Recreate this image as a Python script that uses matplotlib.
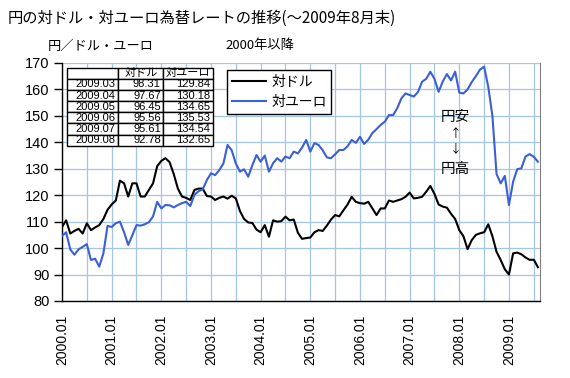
import matplotlib
matplotlib.use('Agg')
import matplotlib.pyplot as plt
import numpy as np

plt.rcParams['font.family'] = ['Noto Sans CJK JP', 'DejaVu Sans']

# ---- data (month-end rates, 2000.01 .. 2009.08) ----
usd = [108, 110.5, 105.5, 106.5, 107.3, 105.5, 109.4, 106.8, 107.8, 108.7, 111, 114.5,
       116.5, 118, 125.5, 124.5, 119.5, 124.5, 124.5, 119.5, 119.5, 122, 124.5, 131,
       133, 134, 132.5, 128, 122.5, 119.5, 119, 118.2, 122, 122.5, 122.5, 119.7,
       119.5, 118.2, 119, 119.5, 118.7, 119.8, 118.8, 114, 111, 109.7, 109.5, 107,
       106, 108.7, 104.3, 110.5, 110, 110.2, 111.9, 110.5, 110.8, 105.8, 103.5, 103.8,
       104, 106, 106.8, 106.5, 108.5, 110.8, 112.5, 112, 114.3, 116.5, 119.4, 117.5,
       117, 116.8, 117.5, 115, 112.5, 115, 115, 118, 117.5, 118, 118.5, 119.4,
       121, 118.8, 119, 119.4, 121.3, 123.5, 120.5, 116.5, 115.7, 115.3, 113, 111,
       106.8, 104.5, 99.6, 103, 105, 105.6, 106, 109, 104.5, 98.6, 95.5, 92,
       90, 98, 98.31, 97.67, 96.45, 95.56, 95.61, 92.78]
eur = [104.5, 106, 99.5, 97.5, 99.5, 100.5, 101.5, 95.5, 96, 93, 98, 108.4,
       108, 109.4, 110, 106, 101.2, 104.9, 108.7, 108.5, 109, 109.8, 112, 117.5,
       115, 116.3, 116.2, 115.4, 116.3, 117, 117.5, 115.9, 120.2, 121.5, 122.2, 125.7,
       128.3, 127.6, 129.5, 132, 139, 137, 132, 128.9, 129.8, 127, 131.4, 135.2,
       132.7, 135, 128.9, 132.1, 134, 132.7, 134.6, 134, 136.5, 135.8, 138, 140.9,
       136.5, 139.7, 139, 137, 134.3, 134, 135.5, 137.1, 137.1, 138.5, 140.9, 139.8,
       142.1, 139.4, 141, 143.5, 145, 146.6, 147.8, 150.3, 150.3, 152.9, 156.6, 158.5,
       157.9, 157.3, 159, 162.9, 164, 166.7, 164, 159.1, 163, 165.8, 163.4, 166.7,
       158.8, 158.5, 160, 162.8, 165, 167.5, 168.6, 161, 150, 128, 124.5, 127.3,
       116.3, 125.1, 129.84, 130.18, 134.65, 135.53, 134.54, 132.65]
series_names = ['対ドル', '対ユーロ']
tick_years = list(range(2000, 2010))
tick_labels = [f"{y}.01" for y in tick_years]

table_months = ['2009.03', '2009.04', '2009.05', '2009.06', '2009.07', '2009.08']
table_usd = [98.31, 97.67, 96.45, 95.56, 95.61, 92.78]
table_eur = [129.84, 130.18, 134.65, 135.53, 134.54, 132.65]

title = '円の対ドル・対ユーロ為替レートの推移(〜2009年8月末)'
unit_label = '円／ドル・ユーロ'
period_label = '2000年以降'
ann_texts = ['円安', '↑', '↓', '円高']

# ---- figure ----
W, H = 570, 378
fig = plt.figure(figsize=(W / 100, H / 100), dpi=100)
ax = fig.add_axes([62 / W, 1 - 301 / H, 478 / W, 238 / H])

x = np.arange(len(usd))
ax.plot(x, usd, color='black', lw=1.5, label=series_names[0], zorder=3)
ax.plot(x, eur, color='#3a5fd8', lw=1.5, label=series_names[1], zorder=3)

ax.set_xlim(0, 115.5)
ax.set_ylim(80, 170)
ax.set_yticks(np.arange(80, 171, 10))
ax.set_xticks(np.arange(0, len(usd), 12))
ax.set_xticklabels(tick_labels, rotation=90, fontfamily='Liberation Sans', fontsize=10)
ax.set_xticks(np.arange(6, len(usd), 12), minor=True)
for lab in ax.get_yticklabels():
    lab.set_fontfamily('Liberation Sans')
    lab.set_fontsize(10.5)

gcol = '#a3c6e8'
ax.grid(True, which='both', axis='x', color=gcol, lw=0.9)
ax.grid(True, which='major', axis='y', color=gcol, lw=0.9)
ax.set_axisbelow(True)

ax.tick_params(axis='x', which='both', length=0, pad=10)
ax.tick_params(axis='y', which='major', direction='out', length=6, width=1, pad=3, color='black')

ax.spines['top'].set_visible(False)
ax.spines['right'].set_color('#808080')
for s in ('left', 'bottom'):
    ax.spines[s].set_color('black')
    ax.spines[s].set_linewidth(1)

# ---- table ----
cell_text = [[m, f"{u:.2f}", f"{e:.2f}"] for m, u, e in zip(table_months, table_usd, table_eur)]
tbl = ax.table(cellText=cell_text, colLabels=['', series_names[0], series_names[1]],
               cellLoc='right', colLoc='center', colWidths=[0.35, 0.31, 0.34],
               bbox=[0.011, 0.6525, 0.305, 0.3275])
tbl.auto_set_font_size(False)
tbl.set_fontsize(8)
tbl.set_zorder(5)
for (r, c), cell in tbl.get_celld().items():
    cell.set_linewidth(1)
    cell.set_edgecolor('black')
    cell.set_facecolor('white')
    cell.PAD = 0.06
    if c == 0 and r > 0:
        cell._loc = 'left'
    cell.get_text().set_fontfamily(['Liberation Sans', 'Noto Sans CJK JP'])

# ---- legend ----
leg = ax.legend(loc='upper left', bbox_to_anchor=(0.346, 0.9706), frameon=True,
                fancybox=False, edgecolor='black', framealpha=1, fontsize=10,
                handlelength=2.4, borderpad=0.35, labelspacing=0.45, borderaxespad=0,
                handletextpad=0.4)
leg.get_frame().set_linewidth(1)
leg.set_zorder(6)

# ---- texts ----
fig.text(8 / W, 1 - 18 / H, title, fontsize=11, va='center', ha='left')
fig.text(48 / W, 1 - 46 / H, unit_label, fontsize=9.5, va='center', ha='left')
fig.text(225 / W, 1 - 46 / H, period_label, fontsize=9.5, va='center', ha='left')

ann_y = [116.5, 134, 149, 168.5]
ann_size = [10.5, 8.5, 8.5, 10.5]
for t, py, fs in zip(ann_texts, ann_y, ann_size):
    fig.text(455.5 / W, 1 - py / H, t, fontsize=fs, va='center', ha='center',
             family=['Noto Sans CJK JP', 'DejaVu Sans'])

fig.savefig('out.png', dpi=100)
